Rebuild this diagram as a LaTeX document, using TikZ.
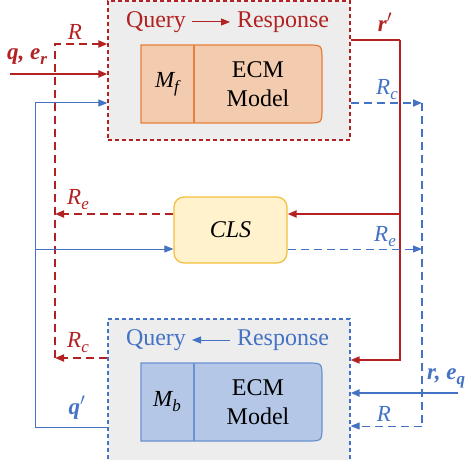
\documentclass[tikz,border=0pt]{standalone}
\usepackage{fontspec}
\setmainfont{Liberation Serif}
\usetikzlibrary{arrows.meta}
\definecolor{myred}{RGB}{178,34,34}
\definecolor{myblue}{RGB}{68,114,196}
\definecolor{boxgray}{RGB}{237,237,237}
\definecolor{orfill}{RGB}{243,203,174}
\definecolor{ordraw}{RGB}{228,128,60}
\definecolor{blfill}{RGB}{180,199,231}
\definecolor{bldraw}{RGB}{106,146,208}
\definecolor{clsfill}{RGB}{255,242,204}
\definecolor{clsdraw}{RGB}{244,190,60}
\newcommand{\mysub}[1]{\raisebox{-0.22em}{\fontsize{17}{17}\selectfont #1}}
\begin{document}
\begin{tikzpicture}[x=1pt,y=-1pt,
  txt/.style={font=\fontsize{24}{29}\selectfont, inner sep=0pt},
  lbl/.style={font=\fontsize{23}{27}\selectfont\itshape, inner sep=0pt},
  blbl/.style={font=\fontsize{23}{27}\selectfont\bfseries\itshape, inner sep=0pt},
  tip/.style={-{Triangle[length=9pt,width=7pt]}},
  outerbox/.style={fill=boxgray, dashed, dash pattern=on 4pt off 3pt, line width=1.2pt, minimum width=242pt, inner sep=0pt},
  reddash/.style={myred, line width=2pt, dash pattern=on 8pt off 5pt},
  bluedash/.style={myblue, line width=1.8pt, dash pattern=on 8pt off 5pt},
  bluethindash/.style={myblue, line width=1pt, dash pattern=on 8pt off 5pt},
  redthin/.style={myred, line width=1.2pt},
  bluethin/.style={myblue, line width=1pt}]
\useasboundingbox (0,0) rectangle (472,460);
% outer boxes
\node[outerbox, draw=myred, minimum height=139pt] (top) at (229,70.5) {};
\node[outerbox, draw=myblue, minimum height=150pt] (bot) at (229,394) {};
% inner top
\draw[fill=orfill, draw=ordraw, line width=1.2pt] (141,45) -- (307,45) .. controls (322,45) .. (322,60) -- (322,108) .. controls (322,123) .. (307,123) -- (141,123) -- cycle;
\draw[ordraw, line width=1.2pt] (194,45) -- (194,123);
\node[lbl] (mf) at (167,84) {M\mysub{f}};
\node[txt, align=center] (ecmf) at (258,84) {ECM\\Model};
\node[txt, text=myred] (qt) at (156,22) {Query};
\node[txt, text=myred] (rt) at (283,22) {Response};
\draw[myred, line width=1pt, tip] (192,22) -- (230,22);
% inner bottom
\draw[fill=blfill, draw=bldraw, line width=1.2pt] (141,363) -- (307,363) .. controls (322,363) .. (322,378) -- (322,426) .. controls (322,441) .. (307,441) -- (141,441) -- cycle;
\draw[bldraw, line width=1.2pt] (194,363) -- (194,441);
\node[lbl] (mb) at (167,402) {M\mysub{b}};
\node[txt, align=center] (ecmb) at (258,402) {ECM\\Model};
\node[txt, text=myblue] (qb) at (156,340) {Query};
\node[txt, text=myblue] (rb) at (283,340) {Response};
\draw[myblue, line width=1pt, tip] (230,340) -- (192,340);
% CLS
\node[fill=clsfill, draw=clsdraw, line width=1.2pt, rounded corners=10pt, minimum width=113pt, minimum height=66pt, font=\fontsize{24}{29}\selectfont\itshape] (cls) at (230.5,230) {CLS};
% coordinates
\coordinate (rL) at (55,358);
\coordinate (rT) at (55,44);
\coordinate (rE) at (55,214);
\coordinate (bL) at (35,427);
\coordinate (bT) at (35,103);
\coordinate (bM) at (35,249);
\coordinate (rR1) at (400,40);
\coordinate (rR2) at (400,360);
\coordinate (rRm) at (400,214);
\coordinate (bR1) at (422,103);
\coordinate (bR2) at (422,426);
\coordinate (bRm) at (422,249);
\coordinate (qin) at (10,74);
\coordinate (rin) at (458,393);
% red dashed left loop
\draw[reddash, tip] (top.west |- rL) -- (rL);
\draw[reddash, tip] (rL) -- (rT) -- (top.west |- rT);
\draw[reddash, tip] (cls.west |- rE) -- (rE);
% red input
\draw[myred, line width=2.5pt, tip] (qin) -- (top.west |- qin);
% blue thin left loop
\draw[bluethin] (bot.west |- bL) -- (bL);
\draw[bluethin, tip] (bL) -- (bT) -- (top.west |- bT);
\draw[bluethin, tip] (bM) -- (cls.west |- bM);
% red r' path
\draw[redthin] (top.east |- rR1) -- (rR1);
\draw[myred, line width=1.4pt, tip] (rR1) -- (rR2) -- (bot.east |- rR2);
\draw[myred, line width=2pt, tip] (rRm) -- (cls.east |- rRm);
% blue dashed right loop
\draw[bluedash, tip] (top.east |- bR1) -- (bR1);
\draw[bluedash] (bR1) -- (bR2);
\draw[bluethindash, tip] (bR2) -- (bot.east |- bR2);
\draw[bluethindash, tip] (cls.east |- bRm) -- (bRm);
% blue input
\draw[myblue, line width=2.5pt, tip] (rin) -- (bot.east |- rin);
% labels
\node[lbl, text=myred] (lR) at (75,32) {R};
\node[blbl, text=myred] (lq) at (27,57) {q, e\mysub{r}};
\node[lbl, text=myred] (lRe) at (78,200) {R\mysub{e}};
\node[lbl, text=myred] (lRc) at (78,343) {R\mysub{c}};
\node[blbl, text=myblue] (lqp) at (77,408) {q$'$};
\node[blbl, text=myred] (lrp) at (385,22) {r$'$};
\node[lbl, text=myblue] (lRc2) at (387,90) {R\mysub{c}};
\node[lbl, text=myblue] (lRe2) at (385,237) {R\mysub{e}};
\node[blbl, text=myblue, anchor=west] (lr) at (427,378) {r, e\mysub{q}};
\node[lbl, text=myblue] (lR2) at (384,414) {R};
\end{tikzpicture}
\end{document}
